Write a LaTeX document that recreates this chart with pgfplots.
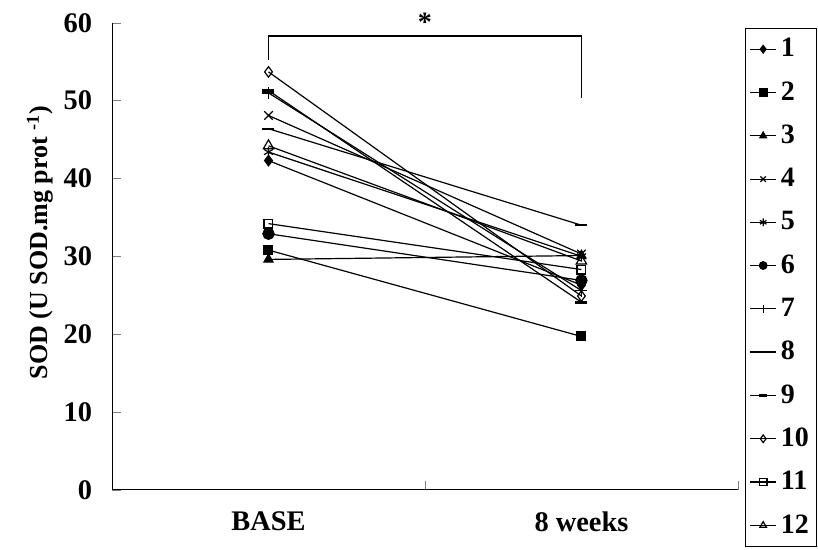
\documentclass[border=0pt]{standalone}
\usepackage{fontspec}
\setmainfont{Liberation Serif}
\usepackage{pgfplots}
\pgfplotsset{compat=1.18}

\begin{document}
\begin{tikzpicture}
\begin{axis}[
    scale only axis,
    width=313pt, height=233.5pt,
    axis lines*=left,
    clip=false,
    xmin=-0.5, xmax=1.5,
    ymin=0, ymax=60,
    ytick={0,10,...,60},
    xtick={0,1},
    xticklabels={BASE, 8 weeks},
    minor xtick={0.5,1.5},
    tick align=inside,
    major tick length=4.5pt,
    minor tick length=4.5pt,
    major x tick style={draw=none},
    /pgf/number format/assume math mode=true,
    tick label style={font=\fontsize{14.2}{16}\selectfont\bfseries},
    yticklabel style={xshift=-6.5pt},
    xticklabel style={yshift=-7.5pt},
    ylabel={SOD (U SOD.mg prot \textsuperscript{-1})},
    ylabel style={at={(axis description cs:-0.115,0.53)}, anchor=center,
      font=\fontsize{13}{15}\selectfont\bfseries},
    every axis plot/.append style={black, line width=0.6pt, mark size=2.6pt},
    legend style={at={(axis description cs:1,1)}, anchor=north west,
      xshift=3.5pt, yshift=-2.5pt, draw=black, line width=0.6pt,
      font=\fontsize{14}{16}\selectfont\bfseries, row sep=6.9pt,
      inner xsep=2pt, inner ysep=3pt},
    legend cell align=left,
    legend image code/.code={\draw[mark size=1.9pt, mark repeat=2, mark phase=2]
      plot coordinates {(0cm,0cm) (0.23cm,0cm) (0.46cm,0cm)};},
  ]
  \addplot[mark=diamond*] coordinates {(0,42.3) (1,26.3)};
  \addplot[mark=square*, mark size=2.2pt] coordinates {(0,30.8) (1,19.7)};
  \addplot[mark=triangle*] coordinates {(0,29.6) (1,30.1)};
  \addplot[mark=x, mark size=3pt] coordinates {(0,48.1) (1,30.3)};
  \addplot[mark=asterisk] coordinates {(0,43.4) (1,30.0)};
  \addplot[mark=*, mark size=2.8pt] coordinates {(0,32.9) (1,26.9)};
  \addplot[mark=+, mark size=3pt] coordinates {(0,51.0) (1,25.6)};
  \addplot[mark=-, mark size=3pt, mark options={line width=1pt}] coordinates {(0,46.4) (1,34.0)};
  \addplot[mark=-, mark size=3pt, mark options={line width=1.5pt}] coordinates {(0,51.3) (1,24.1)};
  \addplot[mark=diamond, mark options={fill=white}] coordinates {(0,53.7) (1,24.9)};
  \addplot[mark=square, mark size=2.2pt, mark options={fill=white}] coordinates {(0,34.2) (1,28.3)};
  \addplot[mark=triangle, mark size=3pt, mark options={fill=white}] coordinates {(0,44.2) (1,29.4)};
  \legend{1,2,3,4,5,6,7,8,9,10,11,12}
  \draw[black, line width=0.6pt] (axis cs:0,55.2) -- (axis cs:0,58.3) -- (axis cs:1,58.3) -- (axis cs:1,50.4);
  \node[anchor=base, font=\fontsize{14}{16}\selectfont\bfseries, inner sep=0pt] at (axis cs:0.5,58.85) {*};
  \path (axis description cs:-0.179,-0.1285) rectangle (axis description cs:1.128,1.049);
\end{axis}
\end{tikzpicture}
\end{document}
